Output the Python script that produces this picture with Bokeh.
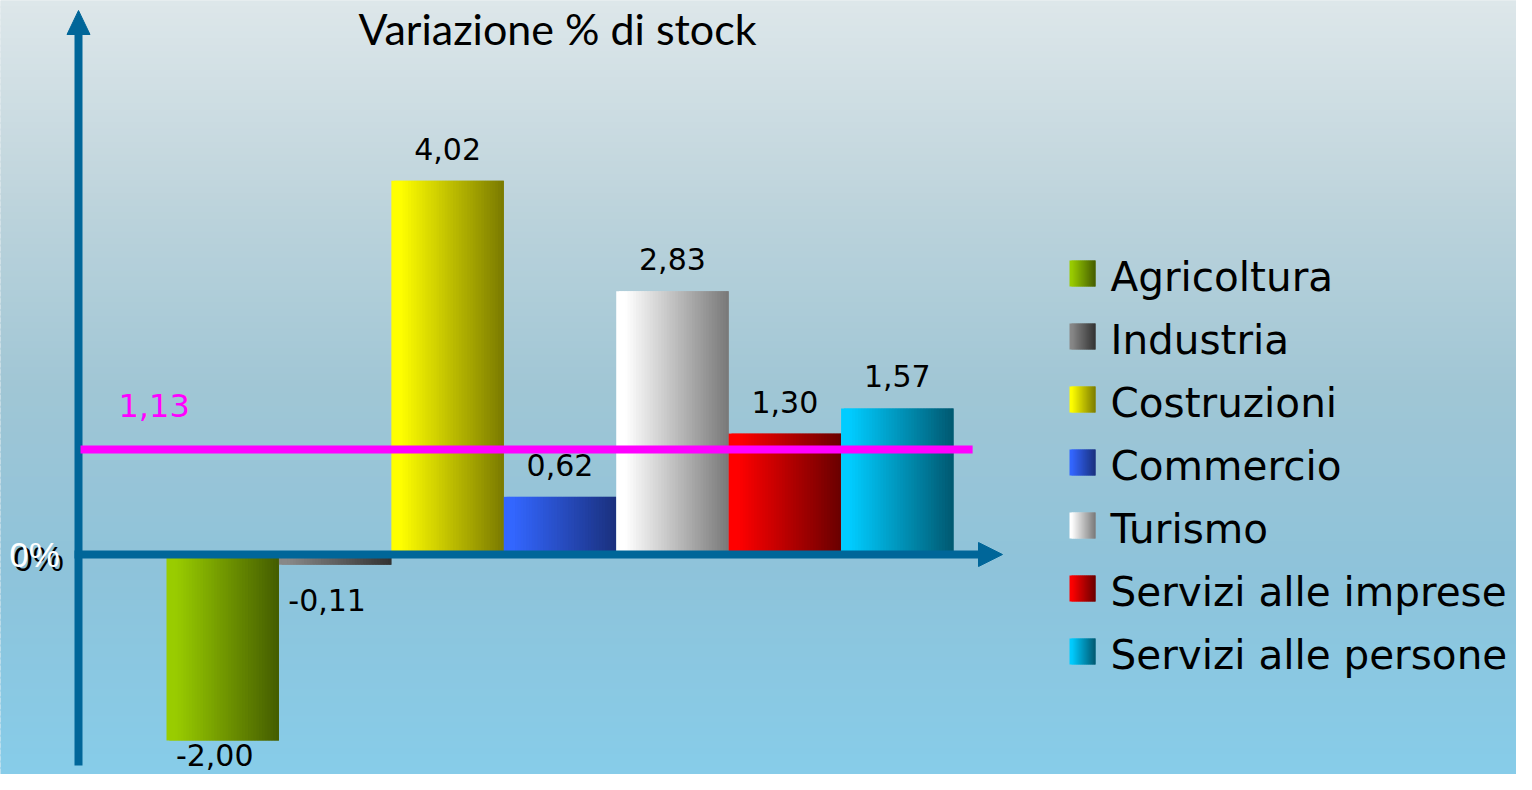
import numpy as np
from bokeh.plotting import figure
from bokeh.models import Range1d
from bokeh.core.properties import value
from bokeh.embed import file_html
from bokeh.resources import INLINE

# ---------------- data ----------------
title_text = "Variazione % di stock"
categories = ["Agricoltura", "Industria", "Costruzioni", "Commercio",
              "Turismo", "Servizi alle imprese", "Servizi alle persone"]
values = [-2.00, -0.11, 4.02, 0.62, 2.83, 1.30, 1.57]
average = 1.13
zero_label = "0%"

# ---------------- styles ----------------
light_colors = [(153, 204, 0), (136, 136, 136), (255, 255, 0), (51, 102, 255),
                (255, 255, 255), (255, 0, 0), (0, 204, 255)]
dark_colors = [(68, 92, 0), (50, 50, 50), (122, 122, 0), (26, 48, 125),
               (120, 120, 120), (105, 0, 0), (0, 88, 112)]
bg_stops = [(0, (221, 231, 234)), (200, (190, 212, 220)), (390, (160, 198, 213)),
            (570, (142, 195, 218)), (790, (134, 205, 234))]
axis_color = "#006699"
avg_color = "#ff00ff"
TITLE_FONT = "Lato"
FONT = "DejaVu Sans"

W, H = 1516, 774
BAR0_PX = 166.0      # screen x of first bar's left edge
SLOT_PX = 112.43     # screen width of one bar
ZERO_PY = 554.0      # screen y of value 0
UNIT_PY = 93.0       # screen px per 1 %


def X(px):
    return (px - BAR0_PX) / SLOT_PX


def Y(py):
    return (ZERO_PY - py) / UNIT_PY


def hexc(c):
    return "#%02x%02x%02x" % tuple(int(round(v)) for v in c)


def grad(c1, c2, t):
    f = max(0.0, (t - 0.08) / 0.92)
    return hexc([a * (1 - f) + b * f for a, b in zip(c1, c2)])


p = figure(width=W, height=H, output_backend="svg", toolbar_location=None,
           x_axis_type=None, y_axis_type=None, min_border=0,
           x_range=Range1d(X(0), X(W)), y_range=Range1d(Y(H), Y(0)))
p.grid.visible = False
p.outline_line_color = None
p.background_fill_color = hexc(bg_stops[0][1])
p.border_fill_color = hexc(bg_stops[0][1])

# background vertical gradient
nb = 120
ys = np.linspace(0, H, nb + 1)
stop_y = [s[0] for s in bg_stops]
bl, br, bt, bb, bc = [], [], [], [], []
for k in range(nb):
    yc = (ys[k] + ys[k + 1]) / 2
    col = [np.interp(yc, stop_y, [s[1][j] for s in bg_stops]) for j in range(3)]
    bl.append(X(-2)); br.append(X(W + 2))
    bt.append(Y(ys[k] - 1)); bb.append(Y(ys[k + 1] + 1)); bc.append(hexc(col))
p.quad(left=bl, right=br, top=bt, bottom=bb, fill_color=bc, line_color=None)

# bars with horizontal gradient
ns = 40
L, R, T, B, C = [], [], [], [], []
for i, v in enumerate(values):
    for k in range(ns):
        t0 = k / ns
        t1 = (k + 1) / ns
        L.append(i + t0)
        R.append(i + min(1.0, t1 + 1.0 / ns))
        T.append(max(v, 0)); B.append(min(v, 0))
        C.append(grad(light_colors[i], dark_colors[i], (t0 + t1) / 2))
p.quad(left=L, right=R, top=T, bottom=B, fill_color=C, line_color=None)

# axes (arrows)
ax_x = X(78)
p.segment(x0=[ax_x], x1=[ax_x], y0=[Y(765)], y1=[Y(30)], line_width=8,
          line_color=axis_color)
p.patch(x=[X(78), X(66.5), X(89.5)], y=[Y(10), Y(34), Y(34)],
        fill_color=axis_color, line_color=axis_color)
p.segment(x0=[X(74)], x1=[X(980)], y0=[0], y1=[0], line_width=8,
          line_color=axis_color)
p.patch(x=[X(1002), X(978), X(978)], y=[0, Y(542), Y(566)],
        fill_color=axis_color, line_color=axis_color)

# average line
p.segment(x0=[X(80)], x1=[len(values) + 0.17], y0=[average], y1=[average],
          line_width=8, line_color=avg_color)
p.text(x=[X(118)], y=[average], text=[("%.2f" % average).replace(".", ",")],
       y_offset=-44, text_font=value(FONT), text_font_size="32px",
       text_color=avg_color, text_align="left", text_baseline="middle")

# value labels
labels = [("%.2f" % v).replace(".", ",") for v in values]
pos_idx = [i for i, v in enumerate(values) if v >= 0]
neg_idx = [i for i, v in enumerate(values) if v < 0]
p.text(x=[i + 0.5 for i in pos_idx], y=[values[i] for i in pos_idx],
       text=[labels[i] for i in pos_idx], y_offset=-32,
       text_font=value(FONT), text_font_size="30px", text_color="black",
       text_align="center", text_baseline="middle")
# below negative bars (kept inside the picture)
neg_off = [min(35.0, (H - 20) - (ZERO_PY - values[i] * UNIT_PY)) for i in neg_idx]
p.text(x=[i + 0.5 for i in neg_idx], y=[values[i] for i in neg_idx],
       text=[labels[i] for i in neg_idx], x_offset=-8, y_offset=neg_off,
       text_font=value(FONT), text_font_size="30px", text_color="black",
       text_align="center", text_baseline="middle")

# 0% label with shadow
p.text(x=[X(34)], y=[0], text=[zero_label], x_offset=4, y_offset=4,
       text_font=value("Liberation Sans"), text_font_size="35px",
       text_color="black", text_align="center", text_baseline="middle")
p.text(x=[X(34)], y=[0], text=[zero_label], x_offset=0, y_offset=0,
       text_font=value("Liberation Sans"), text_font_size="35px",
       text_color="white", text_align="center", text_baseline="middle")

# title
p.text(x=[X(358)], y=[Y(28)], text=[title_text], text_font=value(TITLE_FONT),
       text_font_size="43px", text_color="black", text_align="left",
       text_baseline="middle")

# legend (manual, gradient swatches)
LG_X0, LG_SW, LG_Y0, LG_DY, LG_TX = 1069, 26, 260, 63, 1110
sl, sr, st, sb, sc = [], [], [], [], []
tx, ty = [], []
nsw = 13
for i, name in enumerate(categories):
    top = LG_Y0 + i * LG_DY
    for k in range(nsw):
        a = LG_X0 + LG_SW * k / nsw
        b = LG_X0 + LG_SW * (k + 2) / nsw
        sl.append(X(a)); sr.append(X(min(b, LG_X0 + LG_SW)))
        st.append(Y(top)); sb.append(Y(top + LG_SW))
        sc.append(grad(light_colors[i], dark_colors[i], (k + 0.5) / nsw))
    tx.append(X(LG_TX)); ty.append(Y(top + LG_SW / 2 + 3))
p.quad(left=sl, right=sr, top=st, bottom=sb, fill_color=sc, line_color=None)
p.text(x=tx, y=ty, text=categories, text_font=value(FONT),
       text_font_size="40.5px", text_color="black", text_align="left",
       text_baseline="middle")

open("out.html", "w").write(file_html(p, INLINE))
